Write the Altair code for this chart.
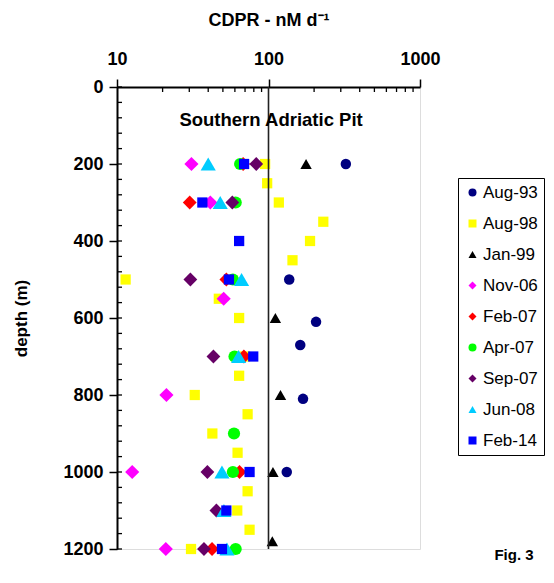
import altair as alt
import pandas as pd

series_names = ["Aug-93", "Aug-98", "Jan-99", "Nov-06", "Feb-07", "Apr-07", "Sep-07", "Jun-08", "Feb-14"]
series_colors = ["#000080", "#FFFF00", "#000000", "#FF00FF", "#FF0000", "#00FF00", "#660066", "#00CCFF", "#0000FF"]
series_shapes = ["circle", "square", "triangle-up", "diamond", "diamond", "circle", "diamond", "triangle-up", "square"]
series_sizes = [110, 105, 130, 200, 190, 150, 190, 230, 105]

aug93_depth = [200, 500, 610, 670, 810, 1000]
aug93_cdpr = [324, 137, 206, 162, 169, 132]

aug98_depth = [200, 250, 300, 350, 400, 450, 500, 550, 600, 700, 750, 800, 850, 900, 950, 1050, 1100, 1150, 1200]
aug98_cdpr = [95, 98, 117, 230, 188, 144, 11.4, 47, 64, 70, 64, 32.6, 72.8, 42.6, 62.5, 72.8, 62.2, 75, 30.8]

jan99_depth = [200, 600, 800, 1000, 1180]
jan99_cdpr = [177, 111, 120, 107, 106]

nov06_depth = [200, 300, 550, 800, 1000, 1200]
nov06_cdpr = [31, 41.3, 50.6, 21.2, 12.6, 21]

feb07_depth = [200, 300, 500, 700, 1000, 1200]
feb07_cdpr = [68, 30.2, 52.7, 68.8, 64.4, 42.4]

apr07_depth = [200, 300, 500, 700, 900, 1000, 1200]
apr07_cdpr = [65, 60.7, 58.2, 59.7, 59.2, 58.2, 60.7]

sep07_depth = [200, 300, 500, 700, 1000, 1100, 1200]
sep07_cdpr = [83, 57.7, 30.5, 43.3, 39.5, 45.3, 37.5]

jun08_depth = [200, 300, 500, 700, 1000, 1100, 1200]
jun08_cdpr = [40, 48, 66.4, 63.5, 49.3, 50.8, 53.2]

feb14_depth = [200, 300, 400, 500, 700, 1000, 1100, 1200]
feb14_cdpr = [69, 36.6, 64, 54.8, 79.3, 75, 52.7, 49.3]

x_tick_labels = [10, 100, 1000]
y_tick_labels = [0, 200, 400, 600, 800, 1000, 1200]
x_minor_ticks = [20, 30, 40, 50, 60, 70, 80, 90, 200, 300, 400, 500, 600, 700, 800, 900]
y_minor_ticks = list(range(0, 1201, 40))

all_depths = [aug93_depth, aug98_depth, jan99_depth, nov06_depth, feb07_depth,
              apr07_depth, sep07_depth, jun08_depth, feb14_depth]
all_values = [aug93_cdpr, aug98_cdpr, jan99_cdpr, nov06_cdpr, feb07_cdpr,
              apr07_cdpr, sep07_cdpr, jun08_cdpr, feb14_cdpr]

rows = []
for i, name in enumerate(series_names):
    for d, v in zip(all_depths[i], all_values[i]):
        rows.append({"series": name, "depth": d, "cdpr": v})
df = pd.DataFrame(rows)

FONT = "Liberation Sans"
xscale = alt.Scale(type="log", domain=[10, 1000])
yscale = alt.Scale(domain=[0, 1200], reverse=True)

legend = alt.Legend(title=None, orient="none", legendX=341, legendY=91,
                    strokeColor="black", fillColor="white", padding=6,
                    rowPadding=13, labelFontSize=17, labelFont=FONT,
                    labelColor="black", symbolSize=64, symbolOffset=0,
                    symbolStrokeWidth=0, labelOffset=2)

x_enc = alt.X("cdpr:Q", scale=xscale,
              axis=alt.Axis(orient="top", values=x_tick_labels, format="d", grid=False,
                            title="CDPR - nM d⁻¹", titleFontSize=18, titleFont=FONT,
                            titleFontWeight="bold", titlePadding=21,
                            labelFontSize=18, labelFont=FONT, labelFontWeight="bold",
                            labelPadding=11, tickSize=8, tickWidth=1.5, tickColor="black",
                            domainColor="black", domainWidth=2, labelColor="black",
                            titleColor="black", labelFlush=False))
y_enc = alt.Y("depth:Q", scale=yscale,
              axis=alt.Axis(values=y_tick_labels, format="d", grid=False, title="depth (m)",
                            titleFontSize=17, titleFont=FONT, titleFontWeight="bold",
                            titlePadding=32, labelFontSize=18, labelFont=FONT,
                            labelFontWeight="bold", labelPadding=6, tickSize=8,
                            tickWidth=1.5, tickColor="black", domainColor="black",
                            domainWidth=2, labelColor="black", titleColor="black",
                            labelFlush=False))
color_enc = alt.Color("series:N", scale=alt.Scale(domain=series_names, range=series_colors),
                      legend=legend)
shape_enc = alt.Shape("series:N", scale=alt.Scale(domain=series_names, range=series_shapes),
                      legend=legend)

point_layers = []
for name, size in zip(series_names, series_sizes):
    point_layers.append(
        alt.Chart(df).transform_filter(alt.datum.series == name)
        .mark_point(filled=True, opacity=1, strokeWidth=0)
        .encode(x=x_enc, y=y_enc, color=color_enc, shape=shape_enc, size=alt.value(size))
    )

ref_line = alt.Chart(pd.DataFrame({"cdpr": [100]})).mark_rule(
    color="#222222", strokeWidth=1.6).encode(x=alt.X("cdpr:Q", scale=xscale))

yminor = alt.Chart(pd.DataFrame({"depth": y_minor_ticks})).mark_rule(
    color="black", strokeWidth=1.3).encode(
    y=alt.Y("depth:Q", scale=yscale), x=alt.value(0), x2=alt.value(5))

xminor = alt.Chart(pd.DataFrame({"cdpr": x_minor_ticks})).mark_rule(
    color="black", strokeWidth=1.3).encode(
    x=alt.X("cdpr:Q", scale=xscale), y=alt.value(0), y2=alt.value(5))

site_label = alt.Chart(pd.DataFrame({"t": ["Southern Adriatic Pit"]})).mark_text(
    font=FONT, fontSize=18.5, fontWeight="bold", color="black", baseline="middle").encode(
    x=alt.datum(104), y=alt.datum(86), text="t:N")

fig_label = alt.Chart(pd.DataFrame({"t": ["Fig. 3"]})).mark_text(
    font=FONT, fontSize=15, fontWeight="bold", color="black", baseline="middle").encode(
    x=alt.value(397), y=alt.value(468), text="t:N")

chart = alt.layer(*point_layers, ref_line, yminor, xminor, site_label, fig_label).properties(
    width=303, height=462,
    autosize=alt.AutoSizeParams(type="none"),
    padding={"left": 109, "top": 79, "right": 126, "bottom": 26},
).configure_view(stroke="black", strokeWidth=1.5).configure(background="white")

chart.save("out.html", embed_options={"renderer": "svg", "actions": False})
